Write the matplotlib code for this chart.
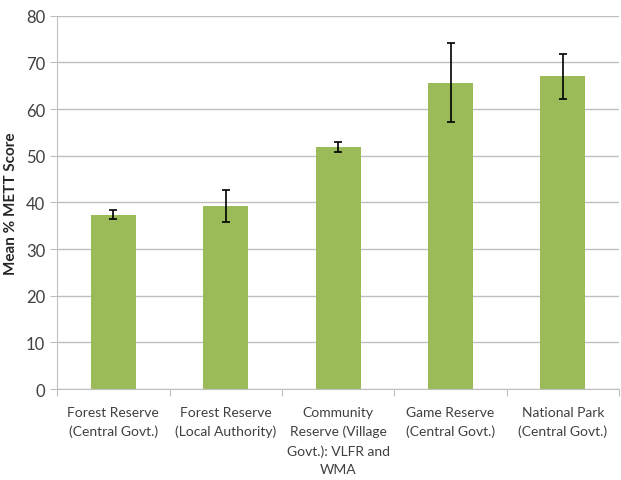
import matplotlib.pyplot as plt
import numpy as np

categories = ["Forest Reserve\n(Central Govt.)", "Forest Reserve\n(Local Authority)",
              "Community\nReserve (Village\nGovt.): VLFR and\nWMA",
              "Game Reserve\n(Central Govt.)", "National Park\n(Central Govt.)"]
means = [37.4, 39.3, 51.9, 65.7, 67.0]
errors = [1.0, 3.4, 1.0, 8.4, 4.9]

plt.rcParams['font.family'] = ['Lato', 'DejaVu Sans']

fig = plt.figure(figsize=(6.21, 4.81), dpi=100)
ax = fig.add_axes([0.092, 0.189, 0.905, 0.776])

x = np.arange(len(categories))
ax.bar(x, means, width=0.4, color='#9BBB59', zorder=2)
ax.errorbar(x, means, yerr=errors, fmt='none', ecolor='black', elinewidth=1.2,
            capsize=3, capthick=1.2, zorder=3)

ax.set_xlim(-0.5, len(categories) - 0.5)
ax.set_ylim(0, 80)
ax.set_yticks(range(0, 81, 10))
ax.yaxis.grid(True, color='#BFBFBF', linewidth=1)
ax.set_axisbelow(True)

ax.set_xticks(np.arange(-0.5, len(categories), 1.0))
ax.set_xticklabels([])
ax.set_xticks(x, minor=True)
ax.set_xticklabels(categories, minor=True, fontsize=10, color='#404040', linespacing=1.65)
ax.tick_params(axis='x', which='minor', length=0, pad=12)
ax.tick_params(axis='x', which='major', length=5, color='#BFBFBF')
ax.tick_params(axis='y', length=5, color='#BFBFBF', labelsize=12, labelcolor='#404040')

for side in ['top', 'right']:
    ax.spines[side].set_visible(False)
ax.spines['left'].set_color('#BFBFBF')
ax.spines['bottom'].set_color('#BFBFBF')

ax.set_ylabel("Mean % METT Score", fontsize=11, fontweight='bold', color='#262626', labelpad=6)

fig.savefig("out.png", dpi=100)
